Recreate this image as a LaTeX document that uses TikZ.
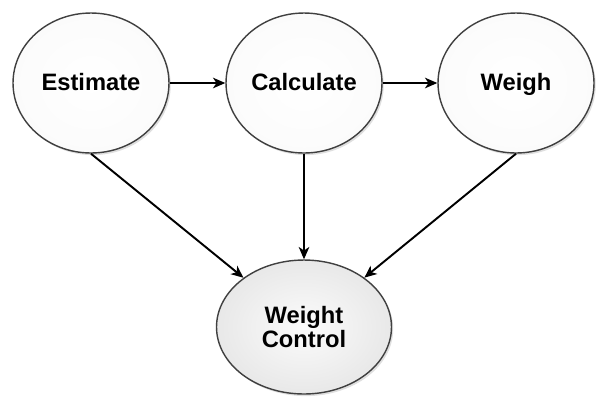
\documentclass[tikz,border=0pt]{standalone}
\usepackage{fontspec}
\setmainfont{Liberation Sans}
\usetikzlibrary{arrows.meta,shapes.geometric,shadows}

\begin{document}
\begin{tikzpicture}
 [x=0.02cm,y=-0.02cm,
  s/.style={ellipse,draw=black!75,line width=0.8pt,inner sep=0pt,
   minimum width=3.12cm,minimum height=2.8cm,align=center,
   font=\fontsize{13.5}{14}\selectfont\bfseries,
   shading=radial,inner color=white,outer color=white!97!gray,
   drop shadow={opacity=0.25,shadow xshift=1pt,shadow yshift=-1.2pt}},
  t/.style={s,text height=2ex,text depth=0.3ex},
  g/.style={s,minimum width=3.5cm,minimum height=2.68cm,
   inner color=white!97!gray,outer color=white!82!gray},
  a/.style={-{Stealth[length=7pt,width=6pt,inset=2pt]},line width=1.1pt}]
 \useasboundingbox (0,0) rectangle (601,397);
 \node[t] (est) at (91,83) {Estimate};
 \node[t] (calc) at (304,83) {Calculate};
 \node[t] (weigh) at (516,83) {Weigh};
 \node[g] (wc) at (304,327) {Weight\\Control};
 \draw[a] (est) -- (calc);
 \draw[a] (calc) -- (weigh);
 \draw[a] (est.south) -- (wc);
 \draw[a] (calc.south) -- (wc);
 \draw[a] (weigh.south) -- (wc);
\end{tikzpicture}
\end{document}
